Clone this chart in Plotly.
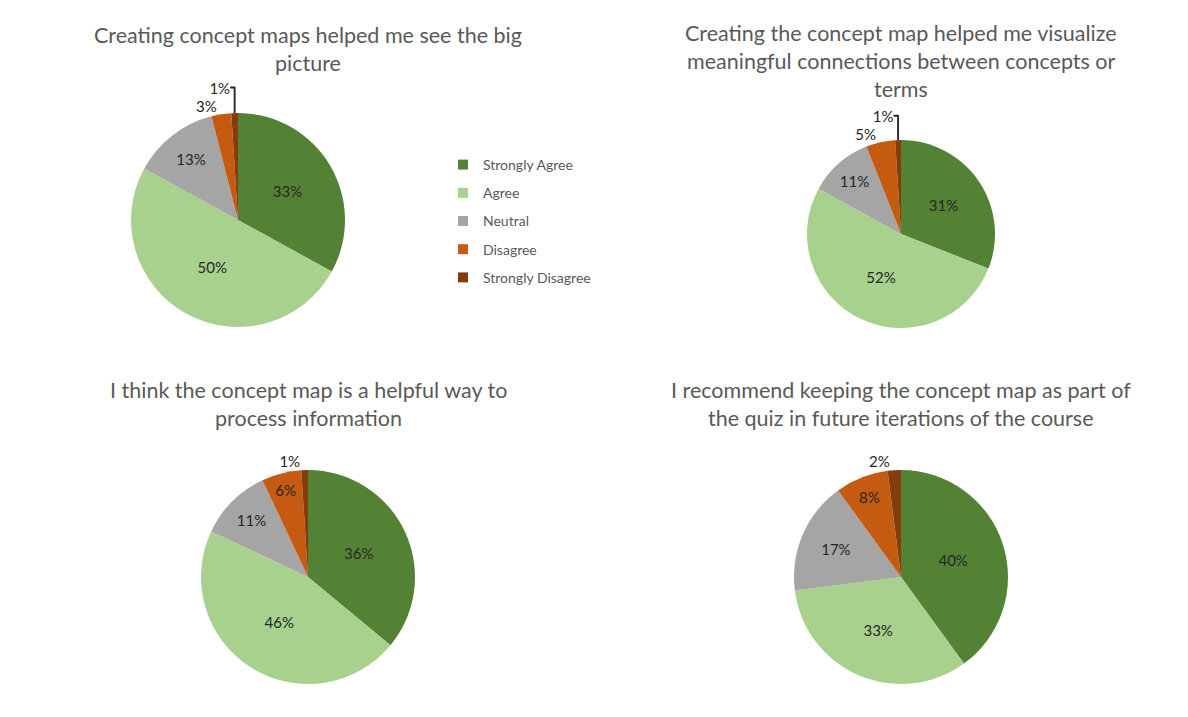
import plotly.graph_objects as go

W, H = 1188, 717

categories = ["Strongly Agree", "Agree", "Neutral", "Disagree", "Strongly Disagree"]
colors = ["#548235", "#A9D18E", "#A5A5A5", "#C55A11", "#843C0C"]

titles = [
    ["Creating concept maps helped me see the big", "picture"],
    ["Creating the concept map helped me visualize", "meaningful connections between concepts or", "terms"],
    ["I think the concept map is a helpful way to", "process information"],
    ["I recommend keeping the concept map as part of", "the quiz in future iterations of the course"],
]
big_picture = [33, 50, 13, 3, 1]
visualize = [31, 52, 11, 5, 1]
helpful_way = [36, 46, 11, 6, 1]
recommend = [40, 33, 17, 8, 2]
series = [big_picture, visualize, helpful_way, recommend]

positions = [
    ["inside", "inside", "inside", "outside", "outside"],
    ["inside", "inside", "inside", "outside", "outside"],
    ["inside", "inside", "inside", "inside", "outside"],
    ["inside", "inside", "inside", "inside", "outside"],
]

# pie geometry in pixels: (cx, cy, r)
geom = [(238, 220, 107), (901, 234, 94), (308, 577, 107), (901, 577, 107)]
title_geom = [(308, 35), (901, 33), (308, 390), (901, 390)]

FONT = "Lato, 'Open Sans', sans-serif"

fig = go.Figure()
for vals, pos, (cx, cy, r) in zip(series, positions, geom):
    fig.add_trace(go.Pie(
        labels=categories, values=vals, sort=False, direction="clockwise", rotation=0,
        marker=dict(colors=colors, line=dict(color="white", width=0)),
        texttemplate="%{value}%", textposition=pos, insidetextorientation="horizontal",
        textfont=dict(size=15, color="#262626", family=FONT),
        showlegend=False, hoverinfo="label+percent",
        domain=dict(x=[(cx - r) / W, (cx + r) / W], y=[1 - (cy + r) / H, 1 - (cy - r) / H]),
    ))

# legend entries
for i, (cat, col) in enumerate(zip(categories, colors)):
    fig.add_trace(go.Scatter(
        x=[None], y=[None], mode="markers", name=cat, legendgroup=str(i),
        marker=dict(symbol="square", size=10, color=col), showlegend=True,
    ))

annotations = []
for lines, (tx, ty) in zip(titles, title_geom):
    for k, line in enumerate(lines):
        annotations.append(dict(
            text=line, x=tx / W, y=1 - (ty + 28 * k) / H, xref="paper", yref="paper",
            xanchor="center", yanchor="middle", showarrow=False,
            font=dict(size=21.5, color="#595959", family=FONT),
        ))

fig.update_layout(
    width=W, height=H, margin=dict(l=0, r=0, t=0, b=0),
    paper_bgcolor="white", plot_bgcolor="white",
    xaxis=dict(visible=False), yaxis=dict(visible=False),
    annotations=annotations,
    uniformtext=dict(minsize=15, mode="show"),
    legend=dict(x=(463 - 20) / W, y=1 - 149 / H, xanchor="left", yanchor="top",
                font=dict(size=14, color="#595959", family=FONT),
                tracegroupgap=7, bgcolor="rgba(0,0,0,0)"),
)

fig.write_html("out.html")
